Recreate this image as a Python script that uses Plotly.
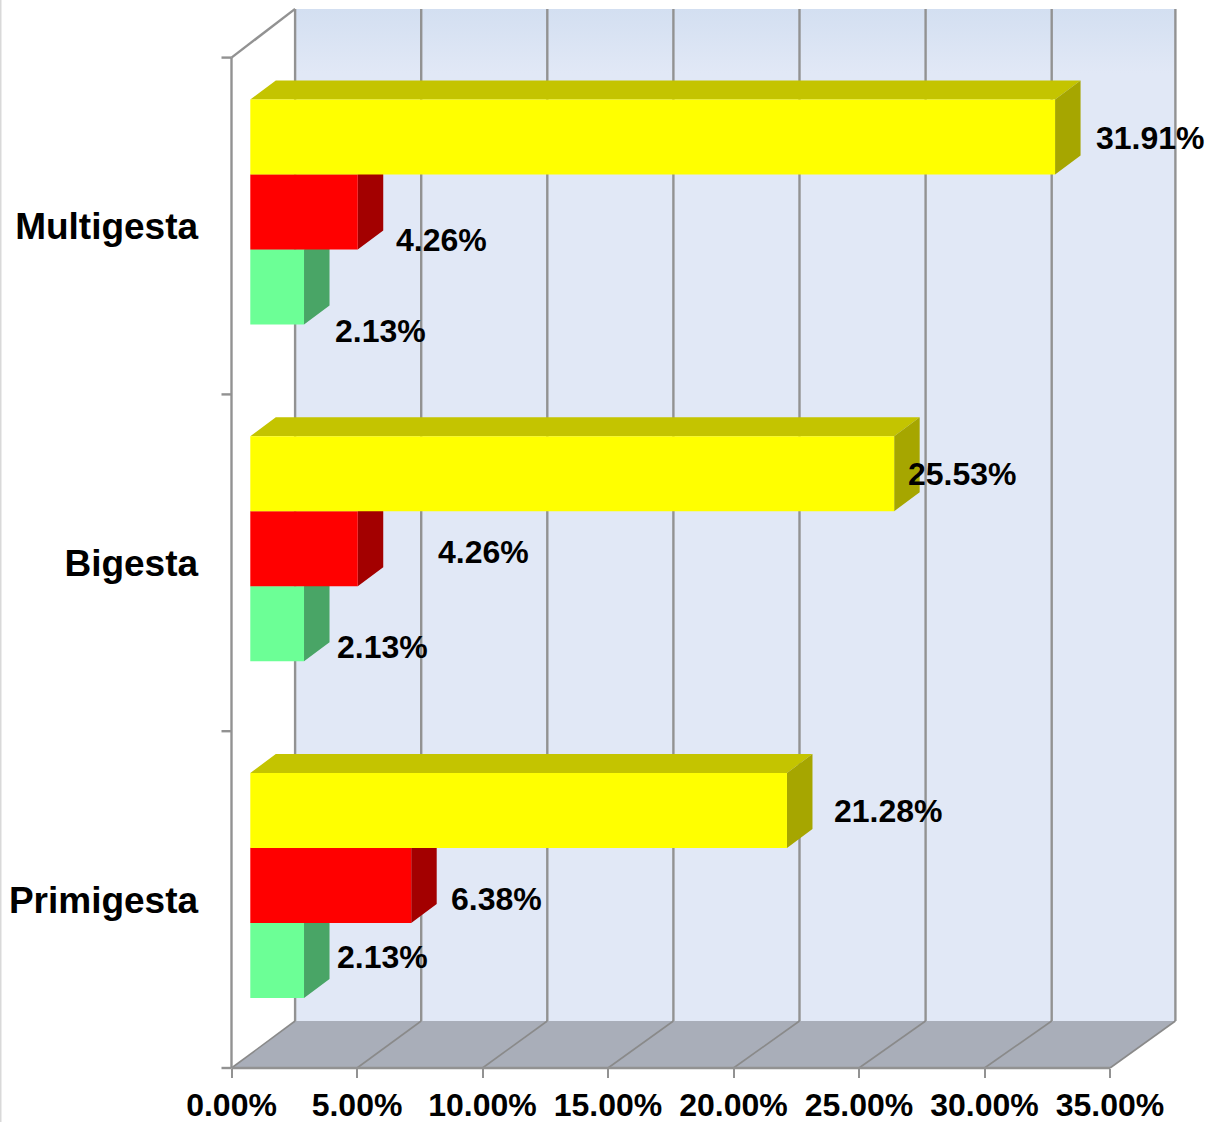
import plotly.graph_objects as go

# ---------- data ----------
categories = ["Primigesta", "Bigesta", "Multigesta"]
green_values = [2.13, 2.13, 2.13]
red_values = [6.38, 4.26, 4.26]
yellow_values = [21.28, 25.53, 31.91]
x_ticks = [0, 5, 10, 15, 20, 25, 30, 35]

# ---------- hand-placed data label centres (pixels), same order as the series ----------
green_label_px = [(382, 957), (382, 647), (380, 331)]
red_label_px = [(496, 899), (483, 552), (441, 240)]
yellow_label_px = [(888, 811), (962, 474), (1150, 138)]

# ---------- geometry ----------
W, H = 1216, 1122
L, R, T, B = 212.0, 1185.0, 5.0, 1085.0     # plot rectangle in pixels
AX_X, AX_Y = 231.5, 1068.0                  # front axes cross here
PX_X = 25.1          # axis scale, px per %
PX_Y = 336.8         # px per category band
BAR_PX_X = 25.22     # bar and back-wall scale, px per %
BAR_X0 = 250.3       # px where bars start
BAR_SHIFT = 14.1     # bars sit this many px above the band centre
WALL_DX, WALL_DY = 63.6 / PX_X, 47 / PX_Y    # depth of the chart box
FACE_DX, FACE_DY = 25.5 / BAR_PX_X, 19 / PX_Y  # depth of a bar
BAR_H = 75 / PX_Y
TICK = 10 / PX_X
WALL_RIGHT = (1175.4 - AX_X) / PX_X          # right edge of the back wall

x_low = -(AX_X - L) / PX_X
x_range = [x_low, x_low + (R - L) / PX_X]
y_floor = -0.5
y_low = y_floor - (B - AX_Y) / PX_Y
y_range = [y_low, y_low + (B - T) / PX_Y]
bx0 = -(BAR_X0 - L) / BAR_PX_X
bar_x_range = [bx0, bx0 + (R - L) / BAR_PX_X]
bar_y_range = [y_range[0] - BAR_SHIFT / PX_Y, y_range[1] - BAR_SHIFT / PX_Y]

GRID = "#929292"
FONT = "Liberation Sans"
pos = list(range(len(categories)))
fig = go.Figure()

wall_bot = y_floor + WALL_DY
wall_top = wall_bot + 3.005
x_end = x_ticks[-1]
grad_y = wall_top - 64 / PX_Y


def wall_x(t):
    """Where a tick value meets the back wall."""
    return min(WALL_DX + t * BAR_PX_X / PX_X, WALL_RIGHT)


# back wall
wl, wr = wall_x(0), wall_x(x_end)
fig.add_trace(go.Scatter(
    x=[wl, wr, wr, wl, wl],
    y=[wall_bot, wall_bot, wall_top, wall_top, wall_bot],
    mode="lines", line=dict(width=0), fill="toself", fillcolor="#E1E8F6", hoverinfo="skip"))
fig.add_trace(go.Scatter(
    x=[wl, wr, wr, wl, wl],
    y=[grad_y, grad_y, wall_top, wall_top, grad_y],
    mode="lines", line=dict(width=0), fill="toself",
    fillgradient=dict(type="vertical", colorscale=[[0, "#E1E8F6"], [1, "#D3DFF1"]]),
    hoverinfo="skip"))
# floor
fig.add_trace(go.Scatter(
    x=[0, x_end, wr, wl, 0],
    y=[y_floor, y_floor, wall_bot, wall_bot, y_floor],
    mode="lines", line=dict(width=0), fill="toself", fillcolor="#A9AEB9", hoverinfo="skip"))

# wall and floor grid lines
gx, gy, fx, fy = [], [], [], []
for t in x_ticks:
    gx += [wall_x(t), wall_x(t), None]
    gy += [wall_bot, wall_top, None]
    fx += [t, wall_x(t), None]
    fy += [y_floor, wall_bot, None]
fig.add_trace(go.Scatter(x=gx, y=gy, mode="lines", line=dict(color=GRID, width=2.4), hoverinfo="skip"))
fig.add_trace(go.Scatter(x=fx, y=fy, mode="lines", line=dict(color="#8A8A8A", width=1.6), hoverinfo="skip"))

# front axis lines, outer edge and category ticks
front_top = y_floor + 3
ax_x = [0, 0, None, 0, wl, None, 0, x_end, None]
ax_y = [y_floor, front_top, None, front_top, wall_top, None, y_floor, y_floor, None]
for i in range(len(categories) + 1):
    ax_x += [-TICK, 0, None]
    ax_y += [y_floor + i, y_floor + i, None]
fig.add_trace(go.Scatter(x=ax_x, y=ax_y, mode="lines", line=dict(color=GRID, width=2.4), hoverinfo="skip"))


def faces(values, centre_offset):
    """Side and top faces of a series' bars, built from its values."""
    sx, sy, tx, ty = [], [], [], []
    for p, v in zip(pos, values):
        y0 = p + centre_offset - BAR_H / 2
        y1 = y0 + BAR_H
        sx += [v, v + FACE_DX, v + FACE_DX, v, v, None]
        sy += [y0, y0 + FACE_DY, y1 + FACE_DY, y1, y0, None]
        tx += [0, v, v + FACE_DX, FACE_DX, 0, None]
        ty += [y1, y1, y1 + FACE_DY, y1 + FACE_DY, y1, None]
    return sx, sy, tx, ty


series = [
    ("Green", green_values, "#6CFF96", "#49A566", "#49A566", -BAR_H),
    ("Red", red_values, "#FF0000", "#A30000", "#A30000", 0),
    ("Yellow", yellow_values, "#FFFF00", "#A6A600", "#C4C400", BAR_H),
]

# bar depth faces, under all the front faces
for name, vals, front, side, top, off in series:
    sx, sy, tx, ty = faces(vals, off)
    fig.add_trace(go.Scatter(x=tx, y=ty, xaxis="x2", yaxis="y2", mode="lines", line=dict(width=0),
                             fill="toself", fillcolor=top, hoverinfo="skip"))
    fig.add_trace(go.Scatter(x=sx, y=sy, xaxis="x2", yaxis="y2", mode="lines", line=dict(width=0),
                             fill="toself", fillcolor=side, hoverinfo="skip"))

# bar front faces
for name, vals, front, side, top, off in series:
    fig.add_trace(go.Bar(x=vals, y=pos, orientation="h", name=name, xaxis="x3", yaxis="y3",
                         marker=dict(color=front, line=dict(width=0))))


def px_to_paper(px, py):
    return (px - L) / (R - L), (B - py) / (B - T)


# data labels
annotations = []
for vals, places in ((green_values, green_label_px), (red_values, red_label_px),
                     (yellow_values, yellow_label_px)):
    for v, (px, py) in zip(vals, places):
        ax, ay = px_to_paper(px, py)
        annotations.append(dict(
            text=f"{v:.2f}%", x=ax, y=ay, xref="paper", yref="paper",
            xanchor="center", yanchor="middle", showarrow=False,
            font=dict(family=FONT, size=32, color="#000000", weight="bold")))

hidden = dict(visible=False, fixedrange=True)
fig.update_layout(
    width=W, height=H, autosize=False,
    margin=dict(l=L, r=W - R, t=T, b=H - B, pad=0, autoexpand=False),
    paper_bgcolor="#FFFFFF", plot_bgcolor="rgba(0,0,0,0)",
    showlegend=False, barmode="group", bargap=1 - 3 * BAR_H, bargroupgap=0,
    annotations=annotations,
    xaxis=dict(range=x_range, tickmode="array", tickvals=x_ticks,
               ticktext=[f"{t:.2f}%" for t in x_ticks],
               anchor="free", position=(B - AX_Y) / (B - T),
               ticks="outside", ticklen=9, tickwidth=2, tickcolor=GRID,
               showgrid=False, zeroline=False, showline=False,
               tickfont=dict(family=FONT, size=32, color="#000000", weight="bold")),
    yaxis=dict(range=y_range, tickmode="array", tickvals=pos, ticktext=categories,
               anchor="free", position=(AX_X - L) / (R - L),
               ticks="outside", ticklen=26, tickwidth=1, tickcolor="rgba(0,0,0,0)",
               showgrid=False, zeroline=False, showline=False,
               tickfont=dict(family=FONT, size=37, color="#000000", weight="bold")),
    xaxis2=dict(range=bar_x_range, overlaying="x", **hidden),
    yaxis2=dict(range=bar_y_range, overlaying="y", **hidden),
    xaxis3=dict(range=bar_x_range, overlaying="x", **hidden),
    yaxis3=dict(range=bar_y_range, overlaying="y", **hidden),
    shapes=[dict(type="line", xref="paper", yref="paper",
                 x0=(0.5 - L) / (R - L), x1=(0.5 - L) / (R - L),
                 y0=(B - H) / (B - T), y1=(B - 0) / (B - T),
                 line=dict(color="#D9D9D9", width=2))],
)

fig.write_html("out.html", config=dict(displayModeBar=False),
               post_script="document.body.style.margin='0';document.body.style.overflow='hidden';")
